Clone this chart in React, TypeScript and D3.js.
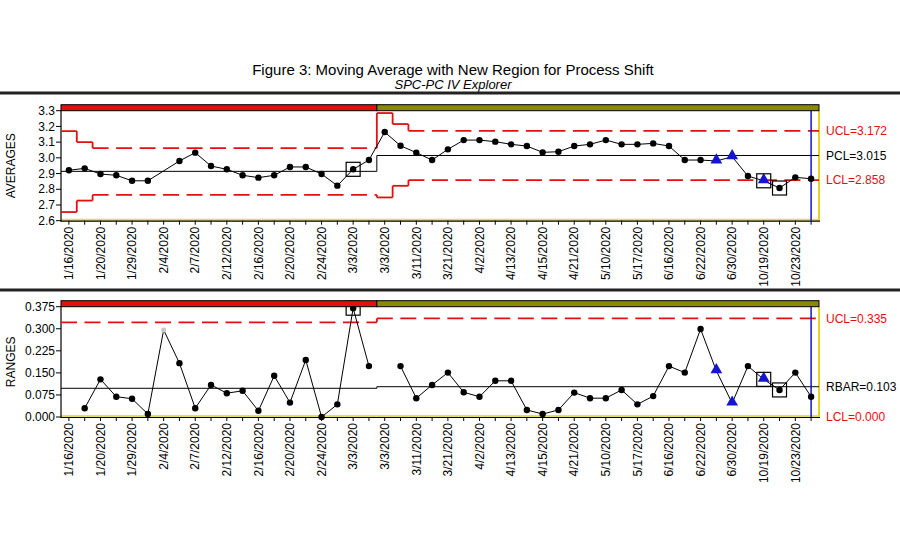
import React from 'react';
import * as d3 from 'd3';

// ---------- DATA ----------
const tickLabels = [
  '1/16/2020', '1/20/2020', '1/29/2020', '2/4/2020', '2/7/2020', '2/12/2020',
  '2/16/2020', '2/20/2020', '2/24/2020', '3/3/2020', '3/3/2020', '3/11/2020',
  '3/21/2020', '4/2/2020', '4/13/2020', '4/15/2020', '4/21/2020', '5/10/2020',
  '5/17/2020', '6/16/2020', '6/22/2020', '6/30/2020', '10/19/2020', '10/23/2020',
];

const averages = [
  2.921, 2.933, 2.897, 2.889, 2.854, 2.854, 2.917, 2.980, 3.033, 2.948,
  2.927, 2.889, 2.874, 2.889, 2.942, 2.942, 2.897, 2.823, 2.927, 2.986,
  3.164, 3.077, 3.033, 2.986, 3.054, 3.113, 3.113, 3.103, 3.086, 3.075,
  3.035, 3.039, 3.075, 3.086, 3.113, 3.086, 3.086, 3.092, 3.075, 2.986,
  2.986, 2.980, 3.007, 2.884, 2.854, 2.808, 2.876, 2.867,
];

const ranges: (number | null)[] = [
  null, 0.030, 0.128, 0.069, 0.062, 0.010, 0.296, 0.183, 0.030, 0.109,
  0.081, 0.089, 0.021, 0.140, 0.049, 0.194, 0.000, 0.043, 0.370, 0.173,
  null, 0.173, 0.064, 0.109, 0.151, 0.084, 0.069, 0.123, 0.123, 0.024,
  0.010, 0.024, 0.083, 0.064, 0.064, 0.092, 0.043, 0.071, 0.173, 0.151,
  0.299, 0.157, 0.047, 0.173, 0.128, 0.092, 0.151, 0.069,
];

const triangleIdx = [41, 42, 44];
const boxedIdx = [18, 44, 45];
const excludedIdx = [6];
const regionStarts = [0, 20];

const avgStepStarts = [0, 1, 2, 20, 21, 22];
const avgUclValues = [3.170, 3.100, 3.062, 3.285, 3.215, 3.172];
const avgLclValues = [2.655, 2.728, 2.764, 2.748, 2.822, 2.858];
const avgCenterValues = [2.914, 3.015];

const rngStepStarts = [0, 20];
const rngUclValues = [0.322, 0.335];
const rngCenterValues = [0.0976, 0.103];

const avgTicks = [2.6, 2.7, 2.8, 2.9, 3.0, 3.1, 3.2, 3.3];
const rngTicks = [0, 0.075, 0.15, 0.225, 0.3, 0.375];

// ---------- LAYOUT ----------
const W = 900;
const H = 550;
const X0 = 61;
const X1 = 819;
const FONT = '"Liberation Sans", Arial, sans-serif';
const RED = '#e41010';
const OLIVE = '#8a8a00';
const BLUE = '#1414d2';
const N = averages.length;

const x = d3.scaleLinear().domain([-0.5, N - 0.5]).range([X0, X1]);

type PanelProps = {
  top: number;
  bottom: number;
  domain: [number, number];
  ticks: number[];
  fmt: (v: number) => string;
  values: (number | null)[];
  stepStarts: number[];
  ucl: number[];
  lcl: number[] | null;
  center: number[];
  labels: { ucl: string; cl: string; lcl: string };
  lclLabelValue: number;
  yTitle: string;
};

function stepSegments(starts: number[], vals: number[]) {
  return starts.map((s, k) => {
    const e = k + 1 < starts.length ? starts[k + 1] : N;
    return { x1: x(s - 0.5), x2: x(e - 0.5), v: vals[k], prev: k > 0 ? vals[k - 1] : null };
  });
}

function Panel(p: PanelProps) {
  const y = d3.scaleLinear().domain(p.domain).range([p.bottom, p.top]);
  const line = d3
    .line<number | null>()
    .defined((d) => d !== null)
    .x((_, i) => x(i))
    .y((d) => y(d as number));
  const shiftX = x(regionStarts[1] - 0.5);
  const uclSegs = stepSegments(p.stepStarts, p.ucl);
  const lclSegs = p.lcl ? stepSegments(p.stepStarts, p.lcl) : [];
  const clSegs = stepSegments(regionStarts, p.center);
  const labelX = 826;
  const lastUcl = p.ucl[p.ucl.length - 1];
  const lastCl = p.center[p.center.length - 1];
  const tri = d3.symbol().type(d3.symbolTriangle).size(60);

  return (
    <g>
      {/* plot border (yellow) */}
      <line x1={X1} x2={X1} y1={p.top} y2={p.bottom} stroke="#e3d22a" strokeWidth={2} />
      <line x1={X0} x2={X1} y1={p.bottom - 1} y2={p.bottom - 1} stroke="#e8dc60" strokeWidth={2} />
      {/* axes */}
      <line x1={X0} x2={X0} y1={p.top} y2={p.bottom + 1} stroke="#000" strokeWidth={1.2} />
      <line x1={X0} x2={X1 + 1} y1={p.bottom + 0.5} y2={p.bottom + 0.5} stroke="#000" strokeWidth={1.2} />
      {p.ticks.map((t) => (
        <g key={'yt' + t}>
          <line x1={X0 - 5} x2={X0} y1={y(t)} y2={y(t)} stroke="#000" />
          <text x={X0 - 6} y={y(t)} dy="0.35em" textAnchor="end" fontSize={12} fontFamily={FONT}>
            {p.fmt(t)}
          </text>
        </g>
      ))}
      {d3.range(N).map((i) => (
        <line key={'xt' + i} x1={x(i)} x2={x(i)} y1={p.bottom} y2={p.bottom + 4} stroke="#000" />
      ))}
      {tickLabels.map((lab, k) => (
        <text
          key={'xl' + k}
          transform={`translate(${x(k * 2)},${p.bottom + 6}) rotate(-90)`}
          dy="0.35em"
          textAnchor="end"
          fontSize={12}
          fontFamily={FONT}
        >
          {lab}
        </text>
      ))}
      <text
        transform={`translate(11,${(p.top + p.bottom) / 2}) rotate(-90)`}
        dy="0.35em"
        textAnchor="middle"
        fontSize={12}
        fontFamily={FONT}
      >
        {p.yTitle}
      </text>

      {/* control limits */}
      {[uclSegs, lclSegs].map((segs, si) =>
        segs.map((s, k) => (
          <g key={'lim' + si + '-' + k}>
            <line
              x1={s.x1}
              x2={s.x2}
              y1={y(s.v)}
              y2={y(s.v)}
              stroke={RED}
              strokeWidth={1.8}
              strokeDasharray="16,7.5"
            />
            {s.prev !== null && (
              <line x1={s.x1} x2={s.x1} y1={y(s.prev)} y2={y(s.v)} stroke={RED} strokeWidth={1.8} />
            )}
          </g>
        ))
      )}
      {clSegs.map((s, k) => (
        <g key={'cl' + k}>
          <line x1={s.x1} x2={s.x2} y1={y(s.v)} y2={y(s.v)} stroke="#000" strokeWidth={1} />
          {s.prev !== null && (
            <line x1={s.x1} x2={s.x1} y1={y(s.prev)} y2={y(s.v)} stroke="#000" strokeWidth={1} />
          )}
        </g>
      ))}

      {/* last point marker line */}
      <line x1={x(N - 1)} x2={x(N - 1)} y1={p.top} y2={p.bottom} stroke={BLUE} strokeWidth={1.5} />

      {/* data */}
      <path d={line(p.values) || ''} fill="none" stroke="#000" strokeWidth={1} />
      {p.values.map((v, i) => {
        if (v === null) return null;
        if (triangleIdx.includes(i)) {
          return (
            <path key={'m' + i} d={tri() || ''} transform={`translate(${x(i)},${y(v) - 1})`} fill={BLUE} />
          );
        }
        if (excludedIdx.includes(i)) {
          return p.yTitle === 'RANGES' ? (
            <circle key={'m' + i} cx={x(i)} cy={y(v)} r={2.5} fill="#c8c8c8" />
          ) : null;
        }
        return <circle key={'m' + i} cx={x(i)} cy={y(v)} r={3.2} fill="#000" />;
      })}
      {boxedIdx.map((i) =>
        p.values[i] === null ? null : (
          <rect
            key={'b' + i}
            x={x(i) - 7}
            y={y(p.values[i] as number) - 7}
            width={14}
            height={14}
            fill="none"
            stroke="#000"
            strokeWidth={1.2}
          />
        )
      )}

      {/* region band */}
      <rect x={X0} y={p.top - 6} width={shiftX - X0} height={6} fill={RED} stroke="#000" strokeWidth={1} />
      <rect x={shiftX} y={p.top - 6} width={X1 - shiftX} height={6} fill={OLIVE} stroke="#000" strokeWidth={1} />

      {/* right labels */}
      <text x={labelX} y={y(lastUcl)} dy="0.35em" fontSize={12} fontFamily={FONT} fill={RED}>
        {p.labels.ucl}
      </text>
      <text x={labelX} y={y(lastCl)} dy="0.35em" fontSize={12} fontFamily={FONT} fill="#000">
        {p.labels.cl}
      </text>
      <text x={labelX} y={y(p.lclLabelValue)} dy="0.35em" fontSize={12} fontFamily={FONT} fill={RED}>
        {p.labels.lcl}
      </text>
    </g>
  );
}

export default function App() {
  return (
    <svg
      width={W}
      height={H}
      style={{ position: 'absolute', left: 0, top: 0, background: '#fff' }}
    >
      <rect width={W} height={H} fill="#fff" />
      <text x={453} y={75} textAnchor="middle" fontSize={15} fontFamily={FONT}>
        Figure 3: Moving Average with New Region for Process Shift
      </text>
      <text x={453} y={88.5} textAnchor="middle" fontSize={13} fontStyle="italic" fontFamily={FONT}>
        SPC-PC IV Explorer
      </text>
      <line x1={0} x2={W} y1={93} y2={93} stroke="#222" strokeWidth={3} />
      <line x1={0} x2={W} y1={290} y2={290} stroke="#222" strokeWidth={3} />
      <Panel
        top={110.7}
        bottom={220.7}
        domain={[2.6, 3.3]}
        ticks={avgTicks}
        fmt={(v) => d3.format('.1f')(v)}
        values={averages}
        stepStarts={avgStepStarts}
        ucl={avgUclValues}
        lcl={avgLclValues}
        center={avgCenterValues}
        labels={{ ucl: 'UCL=3.172', cl: 'PCL=3.015', lcl: 'LCL=2.858' }}
        lclLabelValue={avgLclValues[avgLclValues.length - 1]}
        yTitle="AVERAGES"
      />
      <Panel
        top={306.7}
        bottom={417}
        domain={[0, 0.375]}
        ticks={rngTicks}
        fmt={(v) => d3.format('.3f')(v)}
        values={ranges}
        stepStarts={rngStepStarts}
        ucl={rngUclValues}
        lcl={null}
        center={rngCenterValues}
        labels={{ ucl: 'UCL=0.335', cl: 'RBAR=0.103', lcl: 'LCL=0.000' }}
        lclLabelValue={0}
        yTitle="RANGES"
      />
    </svg>
  );
}
